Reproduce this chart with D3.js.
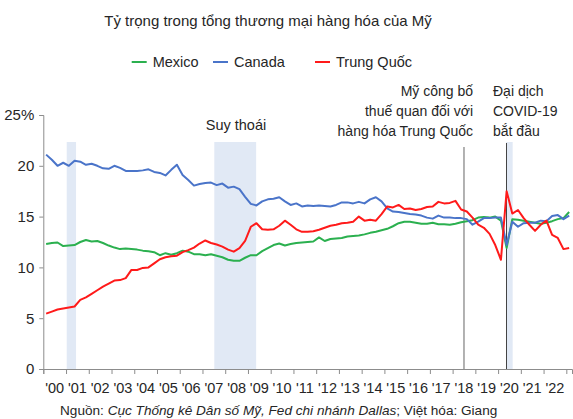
<!DOCTYPE html>
<html>
<head>
<meta charset="utf-8">
<script src="https://cdn.jsdelivr.net/npm/d3@7"></script>
<style>
  body { margin: 0; background: #fff; }
  svg text { font-family: "Liberation Sans", Arial, sans-serif; fill: #262626; }
</style>
</head>
<body>
<div id="vis"></div>
<script>
// quarterly shares (%) of US goods trade, 2000Q1 .. 2023Q1
const mexico = [
  12.3, 12.4, 12.45, 12.1, 12.15, 12.2, 12.5, 12.7, 12.55, 12.6,
  12.4, 12.15, 11.95, 11.8, 11.85, 11.8, 11.75, 11.65, 11.6, 11.5,
  11.2, 11.4, 11.25, 11.4, 11.65, 11.55, 11.3, 11.3, 11.2, 11.3,
  11.15, 11.0, 10.75, 10.65, 10.65, 10.95, 11.2, 11.2, 11.6, 11.9,
  12.2, 12.35, 12.15, 12.3, 12.4, 12.45, 12.5, 12.55, 12.95, 12.6,
  12.8, 12.85, 12.9, 13.05, 13.1, 13.15, 13.25, 13.4, 13.5, 13.65,
  13.8, 14.05, 14.35, 14.5, 14.5, 14.4, 14.3, 14.3, 14.4, 14.25,
  14.25, 14.2, 14.3, 14.45, 14.55, 14.65, 14.9, 14.95, 14.9, 15.0,
  14.6, 11.9, 14.75, 14.7, 14.6, 14.5, 14.4, 14.3, 14.4, 14.55,
  14.75, 14.85, 15.45
];
const canada = [
  21.1, 20.6, 20.0, 20.3, 20.0, 20.5, 20.4, 20.1, 20.2, 20.0,
  19.75, 19.7, 20.0, 19.8, 19.5, 19.5, 19.5, 19.55, 19.65, 19.4,
  19.3, 19.05, 19.6, 20.1, 19.1, 18.6, 18.05, 18.2, 18.3, 18.35,
  18.1, 18.25, 17.85, 17.95, 17.7, 16.95, 16.25, 16.1, 16.5, 16.7,
  16.75, 16.9, 16.5, 16.15, 16.3, 16.0, 16.1, 16.05, 16.1, 16.05,
  16.0, 16.15, 16.4, 16.4, 16.3, 16.45, 16.3, 16.7, 16.9, 16.5,
  15.8, 15.5, 15.45, 15.35, 15.25, 15.2, 15.1, 14.9, 14.8, 15.1,
  14.9, 14.9, 14.85, 14.85, 14.75, 14.2, 14.5, 14.85, 14.85, 14.9,
  14.9, 12.2, 14.5, 14.0, 14.35, 14.4, 14.4, 14.6, 14.55, 15.05,
  15.15, 14.75, 15.1
];
const china = [
  5.45, 5.65, 5.85, 5.95, 6.05, 6.15, 6.8, 7.05, 7.4, 7.75,
  8.1, 8.4, 8.7, 8.75, 8.95, 9.75, 9.75, 9.95, 10.0, 10.4,
  10.8, 11.0, 11.1, 11.15, 11.5, 11.7, 11.95, 12.35, 12.65, 12.4,
  12.25, 12.05, 11.75, 11.55, 11.9, 12.6, 14.0, 14.35, 13.75, 13.7,
  13.75, 14.1, 14.6, 14.2, 13.75, 13.5, 13.5, 13.55, 13.7, 13.9,
  14.1, 14.2, 14.35, 14.4, 14.5, 15.0, 14.6, 14.7, 14.6, 15.25,
  16.0, 15.9, 16.15, 15.75, 15.8, 15.65, 15.75, 15.95, 16.0, 16.45,
  16.3, 16.35, 16.55, 15.7, 15.5, 14.9, 14.2, 13.9, 13.3, 12.2,
  10.75, 17.5, 15.3, 15.65, 14.85, 14.2, 13.6, 14.2, 14.6, 13.2,
  12.9, 11.8, 11.9
];
const seriesNames = ["Mexico", "Canada", "Trung Quốc"];
const seriesColors = ["#2bb04f", "#4a74c9", "#ff1a1a"];
const yTicks = [0, 5, 10, 15, 20, 25];
const years = d3.range(2000, 2024);
const yearLabels = ["'00","'01","'02","'03","'04","'05","'06","'07","'08","'09","'10","'11",
  "'12","'13","'14","'15","'16","'17","'18","'19","'20","'21","'22"];
// shaded periods, in decimal years
const bandStart = [2001.03, 2007.52, 2020.36];
const bandEnd = [2001.44, 2009.36, 2020.64];
const eventYears = [2018.5, 2020.37];
const eventText = [["Mỹ công bố", "thuế quan đối với", "hàng hóa Trung Quốc"], ["Đại dịch", "COVID-19", "bắt đầu"]];

const W = 573, H = 419;
const svg = d3.select("#vis").append("svg").attr("width", W).attr("height", H);

const x = d3.scaleLinear().domain([2000, 2023.25]).range([43.3, 572]);
const y = d3.scaleLinear().domain([0, 25]).range([369, 115]);
const t = i => 2000 + i / 4 + 0.125;

// shaded bands
svg.append("g").selectAll("rect").data(bandStart).join("rect")
  .attr("x", d => x(d))
  .attr("width", (d, i) => x(bandEnd[i]) - x(d))
  .attr("y", 142).attr("height", y(0) - 142)
  .attr("fill", "#e1e9f5");

// event lines
svg.append("g").selectAll("line").data(eventYears).join("line")
  .attr("x1", d => x(d)).attr("x2", d => x(d))
  .attr("y1", (d, i) => i === 0 ? 147 : 143).attr("y2", y(0))
  .attr("stroke", (d, i) => i === 0 ? "#666" : "#444").attr("stroke-width", 1);

// axes
const yAxis = svg.append("g").attr("transform", `translate(${x(2000)},0)`)
  .call(d3.axisLeft(y).tickValues(yTicks).tickSize(4).tickPadding(5)
    .tickFormat(d => d === 25 ? "25%" : d));
yAxis.selectAll("path, line").attr("stroke", "#8c8c8c");
yAxis.selectAll("text").style("font-size", "15px").attr("fill", "#262626");

const xAxis = svg.append("g").attr("transform", `translate(0,${y(0)})`)
  .call(d3.axisBottom(x).tickValues(years).tickSize(5).tickFormat(""));
xAxis.selectAll("path, line").attr("stroke", "#8c8c8c");

svg.append("g").selectAll("text").data(yearLabels).join("text")
  .attr("x", (d, i) => x(2000 + i + 0.5))
  .attr("y", 393)
  .attr("text-anchor", "middle")
  .style("font-size", "14.5px")
  .text(d => d);

// lines
const line = d3.line().x((d, i) => x(t(i))).y(d => y(d));
[mexico, canada, china].forEach((s, k) => {
  svg.append("path").datum(s)
    .attr("d", line)
    .attr("fill", "none")
    .attr("stroke", seriesColors[k])
    .attr("stroke-width", 2)
    .attr("stroke-linejoin", "round");
});

// title
svg.append("text").attr("x", 268).attr("y", 26).attr("text-anchor", "middle")
  .style("font-size", "15px")
  .text("Tỷ trọng trong tổng thương mại hàng hóa của Mỹ");

// legend
const legendX = [131.7, 213, 315];
seriesNames.forEach((n, k) => {
  svg.append("line").attr("x1", legendX[k]).attr("x2", legendX[k] + 15)
    .attr("y1", 62).attr("y2", 62)
    .attr("stroke", seriesColors[k]).attr("stroke-width", 2);
  svg.append("text").attr("x", legendX[k] + 21).attr("y", 67)
    .style("font-size", "14.5px").text(n);
});

// annotations
svg.append("text").attr("x", 236).attr("y", 130).attr("text-anchor", "middle")
  .style("font-size", "14.5px").text("Suy thoái");

eventText[0].forEach((s, i) => {
  svg.append("text").attr("x", 473).attr("y", 96 + i * 20).attr("text-anchor", "end")
    .style("font-size", "14px").text(s);
});
eventText[1].forEach((s, i) => {
  svg.append("text").attr("x", 493).attr("y", 96 + i * 20)
    .style("font-size", "14px").text(s);
});

// source
const src = svg.append("text").attr("x", 60).attr("y", 415).style("font-size", "13.6px");
src.append("tspan").text("Nguồn: ");
src.append("tspan").style("font-style", "italic").text("Cục Thống kê Dân số Mỹ, Fed chi nhánh Dallas");
src.append("tspan").text("; Việt hóa: Giang");
</script>
</body>
</html>
